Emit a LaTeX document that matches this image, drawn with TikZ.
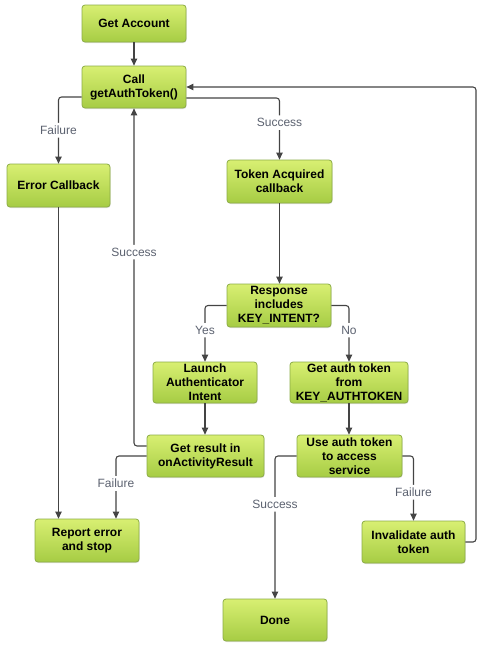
\documentclass[tikz,border=0pt]{standalone}
\usepackage{fontspec}
\setmainfont{Liberation Sans}
\usetikzlibrary{arrows.meta,shadows}
\definecolor{boxtop}{RGB}{216,239,114}
\definecolor{boxbot}{RGB}{166,204,68}
\definecolor{boxline}{RGB}{140,172,70}
\definecolor{lnc}{RGB}{68,68,68}
\definecolor{lblc}{RGB}{92,98,112}
\tikzset{
  box/.style={draw=boxline, line width=0.8pt, rounded corners=3pt,
    top color=boxtop, bottom color=boxbot, align=center,
    font=\fontsize{12}{14}\selectfont\bfseries, text=black,
    inner sep=0pt, drop shadow={shadow xshift=0.6pt, shadow yshift=-1pt, opacity=0.25}},
  conn/.style={draw=lnc, line width=1.1pt, rounded corners=3pt,
    -{Triangle[length=7pt,width=6.5pt]}},
  lbl/.style={fill=white, text=lblc, font=\fontsize{12}{14}\selectfont, inner sep=3pt}
}
\begin{document}
\begin{tikzpicture}[x=1pt,y=-1pt]
\useasboundingbox (0,0) rectangle (479,648);
\node[box, minimum width=104pt, minimum height=37pt] (acct) at (134,23.5) {Get Account};
\node[box, minimum width=104pt, minimum height=42pt] (call) at (134,87) {Call\\getAuthToken()};
\node[box, minimum width=103pt, minimum height=43pt] (err) at (58.5,185.5) {Error Callback};
\node[box, minimum width=105pt, minimum height=43pt] (tok) at (279.5,181.5) {Token Acquired\\callback};
\node[box, minimum width=104pt, minimum height=43pt] (resp) at (279,305.5) {Response\\includes\\KEY\_INTENT?};
\node[box, minimum width=104pt, minimum height=41pt] (launch) at (205,382.5) {Launch\\Authenticator\\Intent};
\node[box, minimum width=118pt, minimum height=41pt] (getauth) at (349,382.5) {Get auth token\\from\\KEY\_AUTHTOKEN};
\node[box, minimum width=117pt, minimum height=42pt] (result) at (205.5,456) {Get result in\\onActivityResult};
\node[box, minimum width=105pt, minimum height=42pt] (use) at (349.5,456) {Use auth token\\to access\\service};
\node[box, minimum width=104pt, minimum height=43pt] (report) at (87,540.5) {Report error\\and stop};
\node[box, minimum width=103pt, minimum height=42pt] (inval) at (413.5,542) {Invalidate auth\\token};
\node[box, minimum width=104pt, minimum height=42pt] (done) at (275,620) {Done};
\coordinate (ret) at (476,87);

\draw[conn] (acct.south) -- (call.north);
\draw[conn] ([yshift=-10pt]call.west) -| node[lbl, pos=0.75] {Failure} (err.north);
\draw[conn] ([yshift=-11pt]call.east) -| node[lbl, pos=0.7] {Success} (tok.north);
\draw[conn] (inval.east) -| (ret) -- (call.east);
\draw[conn] (tok.south) -- (tok.south |- resp.north);
\draw[conn] (resp.west) -| node[lbl, pos=0.72] {Yes} (launch.north);
\draw[conn] (resp.east) -| node[lbl, pos=0.72] {No} (getauth.north);
\draw[conn] (launch.south) -- (launch.south |- result.north);
\draw[conn] (getauth.south) -- (getauth.south |- use.north);
\draw[conn] ([yshift=10pt]result.west) -| node[lbl, pos=0.787] {Success} (call.south);
\draw[conn] (result.west) -| node[lbl, pos=0.72] {Failure} ([xshift=29pt]report.north);
\draw[conn] (err.south) -- (err.south |- report.north);
\draw[conn] (use.west) -| node[lbl, pos=0.67] {Success} (done.north);
\draw[conn] (use.east) -| node[lbl, pos=0.78] {Failure} (inval.north);
\end{tikzpicture}
\end{document}
